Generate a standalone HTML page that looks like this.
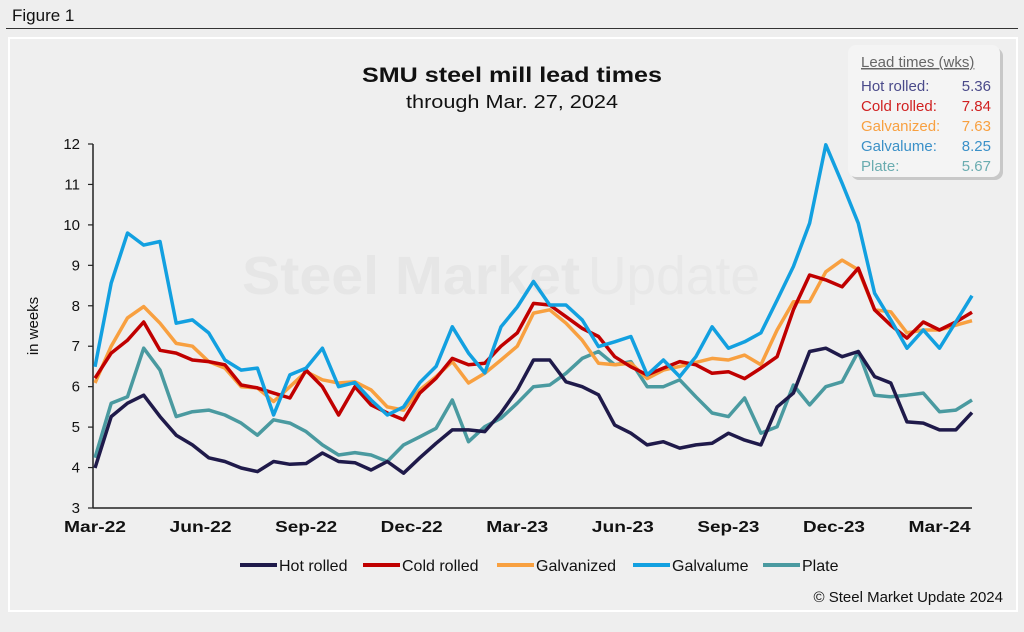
<!DOCTYPE html>
<html><head><meta charset="utf-8">
<style>
html,body{margin:0;padding:0;background:#eeeeee;}
body{width:1024px;height:632px;position:relative;overflow:hidden;font-family:"Liberation Sans",sans-serif;}
</style></head>
<body>
<div style="position:absolute;left:12px;top:6px;font-size:17px;color:#111;">Figure 1</div>
<div style="position:absolute;left:6px;top:28px;width:1012px;height:1px;background:#333;"></div>
<div style="position:absolute;left:8px;top:37px;width:1006px;height:571px;border:2px solid #fff;background:#efefef;"></div>
<svg id="chart" width="1024" height="632" style="position:absolute;left:0;top:0;">
</svg>
<script>
const categoriesCount = 55;
const hotRolled = [3.99,5.26,5.59,5.79,5.26,4.8,4.56,4.24,4.15,3.99,3.9,4.15,4.08,4.1,4.36,4.15,4.12,3.94,4.15,3.86,4.24,4.6,4.93,4.93,4.89,5.35,5.92,6.66,6.66,6.12,6.0,5.8,5.05,4.85,4.56,4.64,4.48,4.56,4.6,4.85,4.68,4.56,5.5,5.84,6.87,6.95,6.74,6.87,6.25,6.09,5.13,5.1,4.93,4.93,5.36];
const coldRolled = [6.21,6.83,7.15,7.6,6.9,6.83,6.66,6.62,6.54,6.04,5.97,5.84,5.72,6.41,6.0,5.3,6.0,5.55,5.35,5.18,5.84,6.21,6.7,6.54,6.58,7.0,7.33,8.06,8.02,7.73,7.44,7.24,6.74,6.49,6.29,6.46,6.62,6.54,6.33,6.37,6.2,6.46,6.74,7.9,8.76,8.64,8.47,8.93,7.9,7.52,7.2,7.6,7.4,7.6,7.84];
const galvanized = [6.09,7.0,7.7,7.98,7.57,7.07,7.0,6.62,6.46,6.0,5.97,5.63,6.0,6.37,6.17,6.09,6.12,5.92,5.5,5.42,5.92,6.25,6.62,6.09,6.33,6.66,7.0,7.82,7.9,7.57,7.15,6.58,6.54,6.58,6.2,6.41,6.5,6.6,6.7,6.66,6.78,6.54,7.4,8.1,8.1,8.84,9.13,8.89,7.9,7.85,7.33,7.4,7.4,7.52,7.63];
const galvalume = [6.49,8.56,9.8,9.5,9.59,7.57,7.65,7.33,6.66,6.41,6.46,5.3,6.29,6.46,6.95,6.0,6.1,5.67,5.3,5.5,6.1,6.5,7.48,6.83,6.34,7.48,7.97,8.6,8.02,8.02,7.65,6.99,7.11,7.24,6.29,6.66,6.25,6.74,7.48,6.95,7.11,7.33,8.14,8.97,10.04,11.98,11.03,10.04,8.31,7.65,6.95,7.4,6.95,7.6,8.25];
const plate = [4.24,5.59,5.75,6.95,6.41,5.26,5.38,5.42,5.3,5.1,4.8,5.18,5.1,4.89,4.56,4.31,4.37,4.31,4.15,4.56,4.76,4.97,5.67,4.64,5.01,5.22,5.59,6.0,6.04,6.33,6.7,6.87,6.54,6.62,6.0,6.0,6.17,5.75,5.35,5.26,5.72,4.85,5.01,6.04,5.55,6.0,6.12,6.87,5.79,5.75,5.79,5.84,5.38,5.42,5.67];
const tickLabels = ["Mar-22","Jun-22","Sep-22","Dec-22","Mar-23","Jun-23","Sep-23","Dec-23","Mar-24"];
const yTicks = [3,4,5,6,7,8,9,10,11,12];
const seriesNames = ["Hot rolled","Cold rolled","Galvanized","Galvalume","Plate"];
const seriesColors = ["#1f1a4a","#c00000","#f8a040","#12a0e0","#4a9aa0"];
const boxColors = ["#4a4a8a","#d02020","#f8a040","#3a90c8","#6aacb0"];

const NS="http://www.w3.org/2000/svg";
const svg=document.getElementById('chart');
const X0=95,X1=972,Y0=508,Y1=144;
const xs=i=>X0+(X1-X0)*i/(categoriesCount-1);
const ys=v=>Y0-(v-3)/(12-3)*(Y0-Y1);
function mk(tag,attrs,parent){const e=document.createElementNS(NS,tag);for(const k in attrs)e.setAttribute(k,attrs[k]);(parent||svg).appendChild(e);return e;}

// watermark
let wm=mk('text',{x:242,y:294,'font-size':54,'font-weight':'bold',fill:'#e6e6e6',textLength:338,lengthAdjust:'spacingAndGlyphs'});
wm.textContent='Steel Market';


let wm2=mk('text',{x:588,y:294,'font-size':54,fill:'#e8e8e8',textLength:172,lengthAdjust:'spacingAndGlyphs'});
wm2.textContent='Update';



// title
let t=mk('text',{x:512,y:82,'text-anchor':'middle','font-size':21,'font-weight':'bold',fill:'#111',textLength:300,lengthAdjust:'spacingAndGlyphs'});
t.textContent='SMU steel mill lead times';


let st=mk('text',{x:512,y:108,'text-anchor':'middle','font-size':18,fill:'#111',textLength:212,lengthAdjust:'spacingAndGlyphs'});
st.textContent='through Mar. 27, 2024';



// axes
let ya=mk('line',{x1:93,y1:Y1,x2:93,y2:Y0,stroke:'#222','stroke-width':1.5});


let xa=mk('line',{x1:93,y1:Y0,x2:X1,y2:Y0,stroke:'#222','stroke-width':1.5});


yTicks.forEach(v=>{
  const tk=mk('line',{x1:88,y1:ys(v),x2:93,y2:ys(v),stroke:'#222','stroke-width':1.2});
  
  
  const tl=mk('text',{x:80,y:ys(v)+5,'text-anchor':'end','font-size':15,fill:'#111'});
  tl.textContent=v;
  
  
});
tickLabels.forEach((lab,k)=>{
  const tl=mk('text',{x:xs(k*6.5),y:532,'text-anchor':'middle','font-size':16,'font-weight':'bold',fill:'#111',textLength:62,lengthAdjust:'spacingAndGlyphs'});
  tl.textContent=lab;
  
  
});
let yt=mk('text',{x:0,y:0,transform:'translate(38,326) rotate(-90)','text-anchor':'middle','font-size':15,fill:'#111'});
yt.textContent='in weeks';



// series
const allSeries=[hotRolled,coldRolled,galvanized,galvalume,plate];
const order=[4,0,2,1,3];
order.forEach(s=>{
  const d=allSeries[s].map((v,i)=>(i?'L':'M')+xs(i).toFixed(1)+','+ys(v).toFixed(1)).join('');
  const p=mk('path',{d:d,fill:'none',stroke:seriesColors[s],'stroke-width':3.5,'stroke-linejoin':'round'});
  
  
});

// legend
const legX=[240,363,497,633,763];
seriesNames.forEach((n,s)=>{
  const l=mk('line',{x1:legX[s],y1:565,x2:legX[s]+37,y2:565,stroke:seriesColors[s],'stroke-width':4});
  
  
  const tx=mk('text',{x:legX[s]+39,y:571,'font-size':16,fill:'#111'});
  tx.textContent=n;
  
  
});
let cp=mk('text',{x:1003,y:602,'text-anchor':'end','font-size':15,fill:'#111'});
cp.textContent='\u00A9 Steel Market Update 2024';



// lead times box
let sh=mk('rect',{x:851,y:48,width:152,height:132,rx:8,fill:'#c8c8c8'});


let bx=mk('rect',{x:848,y:45,width:152,height:132,rx:8,fill:'#f4f4f4'});


let bt=mk('text',{x:861,y:67,'font-size':15,fill:'#666','text-decoration':'underline'});
bt.textContent='Lead times (wks)';


const lastVals=allSeries.map(a=>a[a.length-1].toFixed(2));
const boxLabels=["Hot rolled:","Cold rolled:","Galvanized:","Galvalume:","Plate:"];
boxLabels.forEach((lab,s)=>{
  const a=mk('text',{x:861,y:91+s*20,'font-size':15,fill:boxColors[s]});
  a.textContent=lab;
  
  
  const b=mk('text',{x:991,y:91+s*20,'text-anchor':'end','font-size':15,fill:boxColors[s]});
  b.textContent=lastVals[s];
  
  
});
</script>
</body></html>
